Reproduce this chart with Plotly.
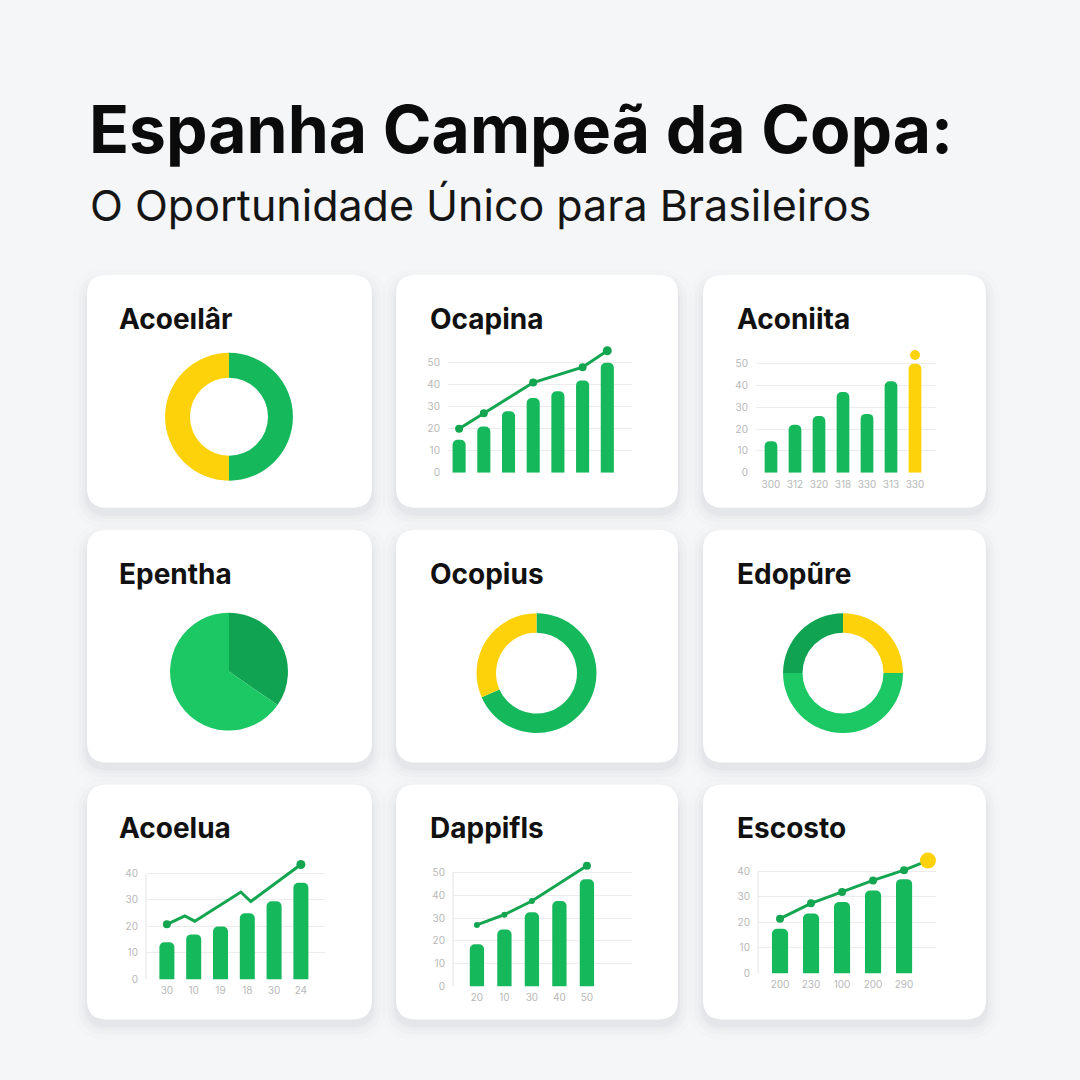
import plotly.graph_objects as go

# ---------------- data ----------------
title_text = "Espanha Campeã da Copa:"
subtitle_text = "O Oportunidade Único para Brasileiros"
card_titles = ["Acoeılâr", "Ocapina", "Aconiita",
               "Epentha", "Ocopius", "Edopũre",
               "Acoelua", "Dappifls", "Escosto"]

# donut / pie panels (clockwise from 12 o'clock)
d1_labels = ["Verde", "Amarelo"]
d1_values = [50, 50]
p4_labels = ["Escuro", "Claro"]
p4_values = [34.6, 65.4]
d5_labels = ["Verde", "Amarelo"]
d5_values = [68.4, 31.6]
d6_labels = ["Amarelo", "Verde", "Verde escuro"]
d6_values = [25, 50, 25]

# bar + line panels
p2_bars = [15, 21, 28, 34, 37, 42, 50]
p2_line_x = [0, 1, 3, 5, 6]
p2_line_y = [20, 27, 41, 48, 55.5]
p2_yticks = [0, 10, 20, 30, 40, 50]

p3_bars = [14.5, 22, 26, 37, 27, 42, 50]
p3_dot = 54
p3_xlabels = ["300", "312", "320", "318", "330", "313", "330"]
p3_yticks = [0, 10, 20, 30, 40, 50]

p7_bars = [14, 17, 20, 25, 29.5, 36.5]
p7_line_x = [0, 0.67, 1.04, 2.76, 3.13, 5]
p7_line_y = [20.8, 24, 22, 33, 29.4, 43.4]
p7_xlabels = ["30", "10", "19", "18", "30", "24"]
p7_yticks = [0, 10, 20, 30, 40]

p8_bars = [18.5, 25, 32.5, 37.5, 47]
p8_line_x = [0, 1, 2, 4]
p8_line_y = [27, 31.5, 37.5, 53]
p8_xlabels = ["20", "10", "30", "40", "50"]
p8_yticks = [0, 10, 20, 30, 40, 50]

p9_bars = [17.5, 23.5, 28, 32.5, 37]
p9_line_x = [0, 1, 2, 3, 4, 4.77]
p9_line_y = [21.5, 27.5, 32, 36.5, 40.5, 44.3]
p9_xlabels = ["200", "230", "100", "200", "290"]
p9_yticks = [0, 10, 20, 30, 40]

# ---------------- style ----------------
W = H = 1080
YS = 1.005  # vertical calibration
GREEN = "#16b85c"
GREEN_LINE = "#13a550"
GREEN_DARK = "#10a452"
GREEN_LIGHT = "#1bc863"
YELLOW = "#fdd20b"
BG = "#f5f6f7"
TICK = dict(size=10, color="#b8b8b8", family="Inter")
GRID = "#ececec"


def fx(px):
    return px / W


def fy(py):
    return 1 - (py * YS) / H


def rrect(x0, y0, x1, y1, r):
    pts = [
        ("M", [(x0 + r, y0)]),
        ("L", [(x1 - r, y0)]),
        ("Q", [(x1, y0), (x1, y0 + r)]),
        ("L", [(x1, y1 - r)]),
        ("Q", [(x1, y1), (x1 - r, y1)]),
        ("L", [(x0 + r, y1)]),
        ("Q", [(x0, y1), (x0, y1 - r)]),
        ("L", [(x0, y0 + r)]),
        ("Q", [(x0, y0), (x0 + r, y0)]),
    ]
    s = ""
    for cmd, ps in pts:
        s += cmd + " " + " ".join(f"{fx(a):.5f},{fy(b):.5f}" for a, b in ps) + " "
    return s + "Z"


cols = [(87, 372), (396, 678), (703, 986)]
rows = [(275, 508), (530, 763), (785, 1020)]

shapes = []
for (y0, y1) in rows:
    for (x0, x1) in cols:
        for e, op in [(14, 0.012), (9, 0.018), (5, 0.025), (2, 0.03)]:
            shapes.append(dict(type="path", xref="paper", yref="paper", layer="below",
                               path=rrect(x0 - e, y0 - e + 8, x1 + e, y1 + e + 6, 20 + e),
                               fillcolor=f"rgba(60,70,90,{op})", line=dict(width=0)))
        shapes.append(dict(type="path", xref="paper", yref="paper", layer="below",
                           path=rrect(x0, y0, x1, y1, 20),
                           fillcolor="#ffffff", line=dict(width=0)))

annotations = [
    dict(text=f"<b>{title_text}</b>", x=fx(87), y=fy(129), xref="paper", yref="paper",
         xanchor="left", yanchor="middle", showarrow=False,
         font=dict(family="Inter", size=66, color="#0b0b0b")),
    dict(text=subtitle_text, x=fx(88), y=fy(205), xref="paper", yref="paper",
         xanchor="left", yanchor="middle", showarrow=False,
         font=dict(family="Inter", size=43, color="#151515")),
]
title_pos = [(117, 319), (428, 319), (735, 319),
             (117, 574), (428, 574), (735, 574),
             (117, 828), (428, 828), (735, 828)]
for t, (px, py) in zip(card_titles, title_pos):
    annotations.append(dict(text=f"<b>{t}</b>", x=fx(px), y=fy(py), xref="paper", yref="paper",
                            xanchor="left", yanchor="middle", showarrow=False,
                            font=dict(family="Inter", size=28, color="#111111")))

fig = go.Figure()


def pie(values, labels, colors, cx, cy, r, hole):
    fig.add_trace(go.Pie(values=values, labels=labels, sort=False, direction="clockwise",
                         rotation=0, hole=hole, textinfo="none", hoverinfo="skip",
                         showlegend=False,
                         marker=dict(colors=colors, line=dict(width=0)),
                         domain=dict(x=[fx(cx - r), fx(cx + r)], y=[fy(cy + r), fy(cy - r)])))


pie(d1_values, d1_labels, [GREEN, YELLOW], 229, 417, 64, 0.61)
pie(p4_values, p4_labels, [GREEN_DARK, GREEN_LIGHT], 229, 672, 59, 0)
pie(d5_values, d5_labels, [GREEN, YELLOW], 536.5, 673.5, 60, 0.675)
pie(d6_values, d6_labels, [YELLOW, GREEN_LIGHT, GREEN_DARK], 843, 673.5, 60, 0.675)

layout_axes = {}


def panel(idx, bars, xdom, base, top, ext, xr, ymax, yticks, xlabels, width,
          bar_colors=None, show_axis_line=False):
    xa = "x" if idx == 1 else f"x{idx}"
    ya = "y" if idx == 1 else f"y{idx}"
    xs = list(range(len(bars)))
    fig.add_trace(go.Bar(x=xs, y=bars, width=width, xaxis=xa, yaxis=ya,
                         marker=dict(color=bar_colors if bar_colors else GREEN, line=dict(width=0)),
                         hoverinfo="skip", showlegend=False))
    key = "" if idx == 1 else str(idx)
    ytop = ymax * (base - (top - ext)) / (base - top)
    layout_axes["xaxis" + key] = dict(
        domain=[fx(xdom[0]), fx(xdom[1])], range=xr, anchor=ya, showgrid=False, zeroline=False,
        tickvals=xs if xlabels else [], ticktext=xlabels if xlabels else [],
        showticklabels=bool(xlabels), tickfont=TICK, ticks="", fixedrange=True,
        showline=False, ticklabelstandoff=4)
    layout_axes["yaxis" + key] = dict(
        domain=[fy(base), fy(top - ext)], range=[0, ytop], anchor=xa, showgrid=True,
        gridcolor=GRID, gridwidth=1, zeroline=False, tickvals=yticks,
        ticktext=[str(v) for v in yticks],
        tickfont=TICK, ticks="", fixedrange=True, ticklabelstandoff=7,
        showline=False)
    if show_axis_line:
        shapes.append(dict(type="line", xref="paper", yref="paper", layer="below",
                           x0=fx(xdom[0]), x1=fx(xdom[0]), y0=fy(base), y1=fy(top),
                           line=dict(color="#e4e4e4", width=1)))
    return xa, ya


def line(xa, ya, xs, ys, sizes, colors):
    fig.add_trace(go.Scatter(x=xs, y=ys, xaxis=xa, yaxis=ya, mode="lines",
                             line=dict(color=GREEN_LINE, width=3), cliponaxis=False,
                             hoverinfo="skip", showlegend=False))
    mx = [x for x, s in zip(xs, sizes) if s > 0]
    my = [y for y, s in zip(ys, sizes) if s > 0]
    ms = [s for s in sizes if s > 0]
    mc = [c for c, s in zip(colors, sizes) if s > 0]
    fig.add_trace(go.Scatter(x=mx, y=my, xaxis=xa, yaxis=ya, mode="markers",
                             marker=dict(size=ms, color=mc, opacity=1, line=dict(width=0)),
                             cliponaxis=False, hoverinfo="skip", showlegend=False))


# panel 2 (Ocapina)
xa, ya = panel(1, p2_bars, (448, 632), 473, 363, 20, [-0.45, 7.0], 50, p2_yticks, None, 0.53)
line(xa, ya, p2_line_x, p2_line_y, [8, 8, 8, 8, 9], [GREEN_LINE] * 5)

# panel 3 (Aconiita)
p3_colors = [GREEN] * (len(p3_bars) - 1) + [YELLOW]
xa, ya = panel(2, p3_bars, (756, 936), 473, 364, 20, [-0.625, 6.875], 50, p3_yticks,
               p3_xlabels, 0.53, bar_colors=p3_colors)
fig.add_trace(go.Scatter(x=[len(p3_bars) - 1], y=[p3_dot], xaxis=xa, yaxis=ya, mode="markers",
                         marker=dict(size=10, color=YELLOW, opacity=1), cliponaxis=False,
                         hoverinfo="skip", showlegend=False))

# panel 7 (Acoelua)
xa, ya = panel(3, p7_bars, (146, 325), 980, 874, 20, [-0.78, 5.9], 40, p7_yticks,
               p7_xlabels, 0.56, show_axis_line=True)
line(xa, ya, p7_line_x, p7_line_y, [8, 0, 0, 0, 0, 9], [GREEN_LINE] * 6)

# panel 8 (Dappifls)
xa, ya = panel(4, p8_bars, (453, 632), 987, 873, 20, [-0.87, 5.64], 50, p8_yticks,
               p8_xlabels, 0.52, show_axis_line=True)
line(xa, ya, p8_line_x, p8_line_y, [6, 6, 6, 8], [GREEN_LINE] * 4)

# panel 9 (Escosto)
xa, ya = panel(5, p9_bars, (758, 936), 974, 872, 24, [-0.71, 5.03], 40, p9_yticks,
               p9_xlabels, 0.52, show_axis_line=True)
line(xa, ya, p9_line_x, p9_line_y, [8, 8, 8, 8, 8, 16], [GREEN_LINE] * 5 + [YELLOW])

fig.update_layout(
    width=W, height=H, margin=dict(l=0, r=0, t=0, b=0),
    paper_bgcolor=BG, plot_bgcolor="rgba(0,0,0,0)",
    shapes=shapes, annotations=annotations, barcornerradius=5,
    showlegend=False, font=dict(family="Inter"),
    **layout_axes,
)

fig.write_html("out.html", config=dict(displayModeBar=False, staticPlot=True))
